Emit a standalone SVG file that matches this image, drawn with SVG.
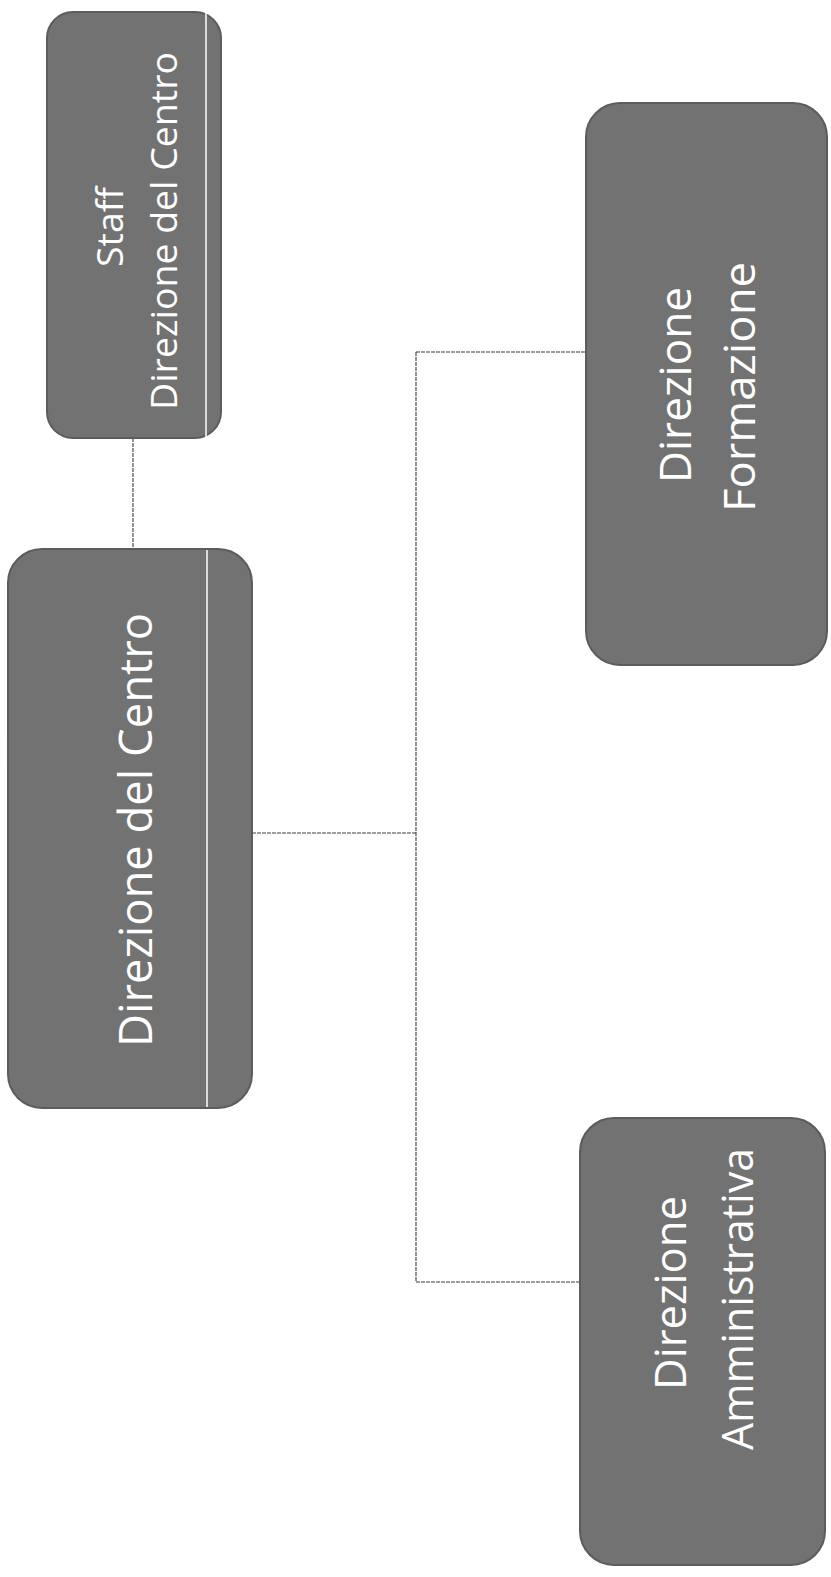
<svg xmlns="http://www.w3.org/2000/svg" width="831" height="1577" viewBox="0 0 831 1577">
<style>
.box{fill:#727272;stroke:#5c5c5c;stroke-width:2}
.sep{stroke:#ffffff;stroke-width:1.5}
.lbl{fill:#ffffff;font-family:"Open Sans","Noto Sans","Liberation Sans",sans-serif;text-anchor:middle}
.conn{stroke:#3c3c3c;stroke-width:1.1;fill:none;stroke-dasharray:4 1}
</style>
<rect width="831" height="1577" fill="#ffffff"/>
<g id="connectors">
<line class="conn" x1="133" y1="438" x2="133" y2="549"/>
<line class="conn" x1="252" y1="833" x2="416" y2="833"/>
<line class="conn" x1="416" y1="352" x2="416" y2="1282"/>
<line class="conn" x1="416" y1="352" x2="587" y2="352"/>
<line class="conn" x1="416" y1="1282" x2="580" y2="1282"/>
</g>
<g id="staff">
<rect class="box" x="47" y="12" width="174" height="426" rx="26"/>
<line class="sep" x1="206" y1="13" x2="206" y2="437"/>
<text class="lbl" font-size="37" transform="translate(123,227) rotate(-90)" textLength="80" lengthAdjust="spacingAndGlyphs">Staff</text>
<text class="lbl" font-size="37" transform="translate(177,231) rotate(-90)" textLength="358" lengthAdjust="spacingAndGlyphs">Direzione del Centro</text>
</g>
<g id="direzione-centro">
<rect class="box" x="8" y="549" width="244" height="559" rx="34"/>
<line class="sep" x1="207" y1="550" x2="207" y2="1107"/>
<text class="lbl" font-size="45" transform="translate(152,830) rotate(-90)" textLength="434" lengthAdjust="spacingAndGlyphs">Direzione del Centro</text>
</g>
<g id="direzione-formazione">
<rect class="box" x="586" y="103" width="241" height="562" rx="34"/>
<text class="lbl" font-size="43" transform="translate(691,385) rotate(-90)" textLength="196" lengthAdjust="spacingAndGlyphs">Direzione</text>
<text class="lbl" font-size="43" transform="translate(755,387) rotate(-90)" textLength="250" lengthAdjust="spacingAndGlyphs">Formazione</text>
</g>
<g id="direzione-amministrativa">
<rect class="box" x="580" y="1118" width="245" height="447" rx="34"/>
<text class="lbl" font-size="43" transform="translate(686,1293) rotate(-90)" textLength="194" lengthAdjust="spacingAndGlyphs">Direzione</text>
<text class="lbl" font-size="43" transform="translate(753,1299) rotate(-90)" textLength="302" lengthAdjust="spacingAndGlyphs">Amministrativa</text>
</g>
</svg>
